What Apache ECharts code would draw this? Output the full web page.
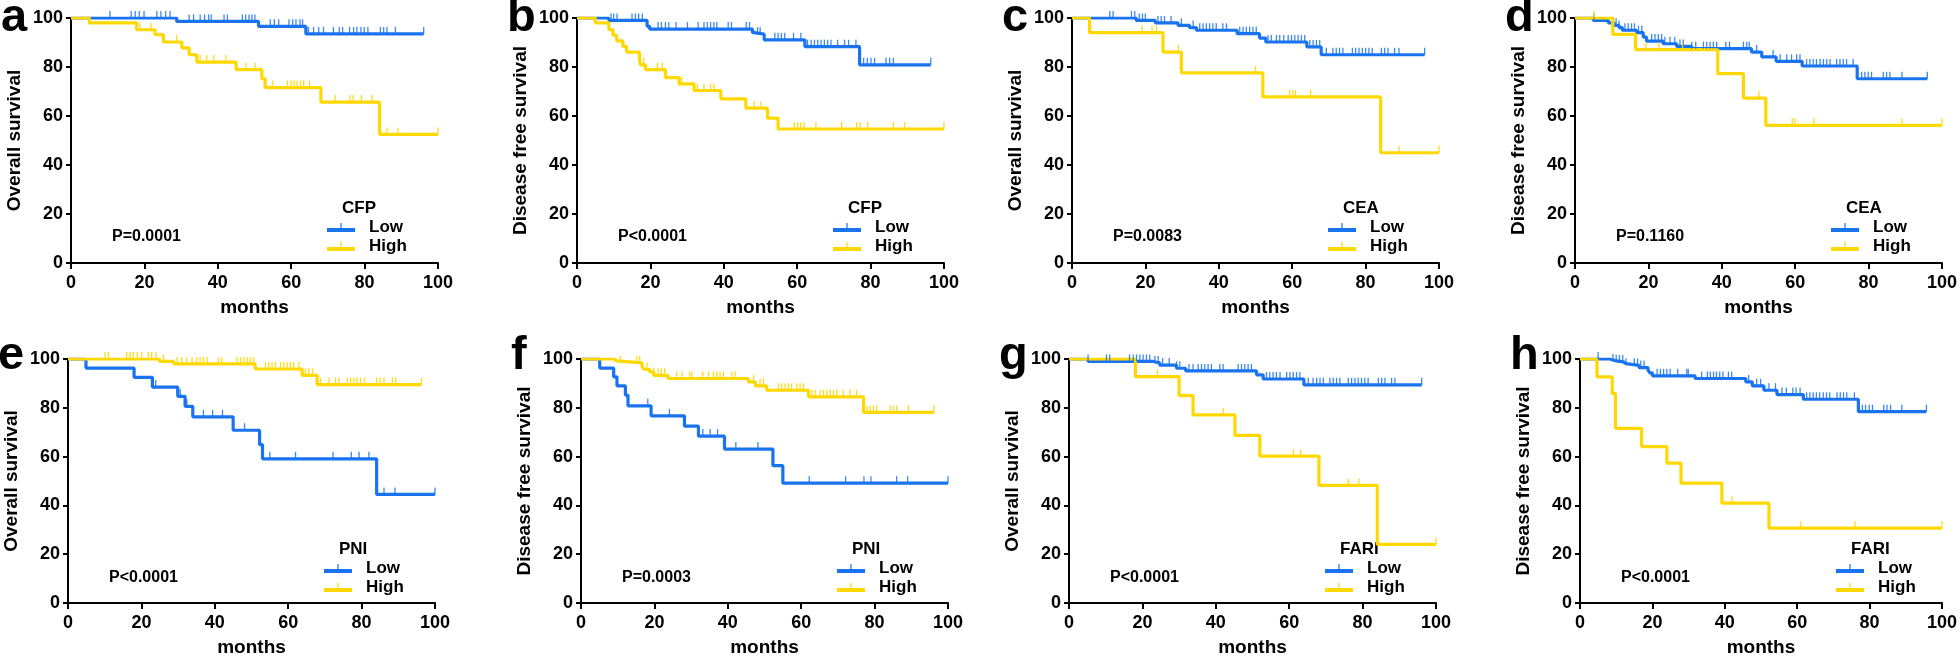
<!DOCTYPE html>
<html>
<head>
<meta charset="utf-8">
<script src="https://cdn.jsdelivr.net/npm/echarts@6.0.0/dist/echarts.min.js"></script>
<style>
html, body { margin: 0; padding: 0; background: #fff; }
#chart { width: 1960px; height: 658px; }
</style>
</head>
<body>
<div id="chart"></div>
<script>
// Kaplan-Meier curves: [month, survival %] at each drop, plus censor times
var monthTicks = [0, 20, 40, 60, 80, 100]
var panelLetters = ['a', 'b', 'c', 'd', 'e', 'f', 'g', 'h']
var yNames = ['Overall survival', 'Disease free survival', 'Overall survival', 'Disease free survival',
  'Overall survival', 'Disease free survival', 'Overall survival', 'Disease free survival']
var markers = ['CFP', 'CFP', 'CEA', 'CEA', 'PNI', 'PNI', 'FARI', 'FARI']
var pValues = ['P=0.0001', 'P<0.0001', 'P=0.0083', 'P=0.1160', 'P<0.0001', 'P=0.0003', 'P<0.0001', 'P<0.0001']

var aLowDrops = [[28.8, 98.6], [51.1, 96.6], [64.0, 93.5]]
var aLowCens = [10.6, 16.4, 17.5, 18.6, 19.9, 23.4, 24.5, 25.8, 27.0, 32.2, 33.4, 35.2, 36.4, 37.5, 38.2, 41.7, 42.6,
  46.7, 47.6, 48.5, 49.3, 50.1, 54.3, 55.4, 56.6, 59.4, 60.4, 61.3, 62.4, 63.1, 64.7, 66.1, 67.5, 68.8, 71.5, 73.1,
  74.0, 75.9, 77.0, 77.9, 79.0, 79.9, 80.9, 84.3, 85.2, 86.1, 88.4, 96.1]
var aHighDrops = [[5.0, 98.0], [17.9, 95.2], [22.9, 93.2], [25.2, 90.2], [30.2, 87.8], [32.2, 85.0], [34.3, 82.0],
  [45.0, 78.9], [52.0, 75.2], [52.9, 71.6], [68.1, 65.7], [84.1, 52.5]]
var aHighCens = [18.8, 21.8, 28.8, 35.2, 37.0, 38.9, 42.2, 47.7, 50.2, 55.0, 59.0, 60.0, 60.8, 61.6, 62.5, 63.4, 65.0,
  72.0, 76.0, 76.9, 79.1, 82.0, 86.1, 89.1, 100]

var bLowDrops = [[8.7, 99.0], [19.1, 96.6], [19.8, 95.5], [47.8, 94.1], [48.3, 93.4], [51.0, 91.1], [62.1, 88.3], [77.0, 80.9]]
var bLowCens = [9.3, 10.0, 10.9, 15.0, 15.9, 16.8, 17.8, 22.1, 23.0, 24.1, 25.0, 27.0, 30.1, 33.0, 34.6, 35.5, 36.4,
  37.3, 38.1, 41.2, 42.1, 46.1, 47.0, 49.2, 49.9, 53.9, 54.8, 55.7, 56.6, 59.0, 61.0, 62.8, 63.8, 64.7, 65.6, 66.5,
  67.4, 68.3, 69.2, 71.0, 72.9, 74.0, 76.0, 78.1, 79.1, 80.1, 81.1, 84.2, 85.2, 86.2, 96.4]
var bHighDrops = [[5.0, 98.0], [8.7, 95.2], [9.8, 93.0], [10.8, 90.7], [12.5, 88.4], [13.5, 86.1], [17.0, 83.5],
  [17.3, 80.9], [18.7, 78.9], [24.1, 75.7], [27.8, 73.1], [31.9, 70.4], [39.2, 67.0], [46.0, 63.2], [51.9, 59.1], [54.8, 54.7]]
var bHighCens = [18.2, 21.9, 23.2, 28.5, 32.8, 34.6, 36.4, 37.3, 48.3, 50.1, 59.2, 60.1, 61.0, 61.9, 65.1, 72.1, 76.2,
  77.1, 79.2, 86.2, 89.3, 100]

var cLowDrops = [[17.5, 99.0], [22.7, 98.0], [28.9, 97.0], [32.0, 96.1], [33.9, 95.0], [45.0, 93.6], [51.1, 91.8],
  [52.8, 90.2], [64.0, 88.2], [67.9, 85.0]]
var cLowCens = [10.3, 11.2, 16.2, 17.1, 18.3, 19.2, 20.0, 23.4, 24.3, 25.2, 27.0, 29.8, 33.0, 34.8, 35.7, 36.6, 37.5,
  38.4, 39.3, 41.1, 42.1, 45.7, 46.6, 47.5, 48.4, 49.3, 50.2, 53.4, 54.3, 55.7, 56.6, 57.7, 58.9, 59.8, 60.7, 61.6,
  62.5, 63.4, 64.8, 65.7, 66.6, 67.5, 69.3, 71.1, 72.0, 72.9, 73.8, 76.4, 77.3, 78.2, 79.1, 80.0, 80.9, 81.8, 84.3,
  85.2, 86.1, 87.9, 89.1, 96.1]
var cHighDrops = [[4.8, 94.0], [24.8, 86.1], [29.8, 77.6], [52.0, 67.8], [84.1, 45.0]]
var cHighCens = [19.1, 21.8, 23.0, 29.0, 50.0, 59.3, 60.2, 60.9, 65.0, 89.1, 100]

var dLowDrops = [[5.0, 99.0], [9.1, 98.0], [10.7, 97.0], [12.0, 96.1], [12.9, 95.0], [16.8, 94.0], [18.6, 92.2],
  [19.5, 90.6], [24.0, 89.5], [27.7, 88.4], [31.8, 87.5], [48.1, 86.1], [50.9, 84.1], [54.8, 82.3], [61.9, 80.4], [76.9, 75.2]]
var dLowCens = [5.2, 11.2, 12.0, 13.6, 14.5, 15.4, 16.2, 17.3, 18.2, 20.9, 21.8, 22.7, 23.6, 24.5, 25.9, 27.2, 28.6,
  29.5, 31.8, 32.9, 35.0, 35.9, 36.8, 37.7, 38.6, 41.1, 42.1, 45.9, 46.8, 47.5, 49.5, 54.0, 55.9, 57.7, 59.0, 60.4,
  61.3, 63.1, 64.0, 64.9, 65.8, 66.8, 67.7, 68.6, 69.5, 71.3, 72.2, 73.1, 74.0, 75.8, 78.1, 79.0, 79.9, 80.8, 84.0,
  84.9, 85.8, 89.1, 96.0]
var dHighDrops = [[10.3, 93.3], [16.5, 87.1], [38.9, 77.3], [45.9, 67.3], [52.0, 56.2]]
var dHighCens = [5.2, 19.3, 22.9, 29.3, 50.1, 59.2, 59.9, 65.1, 89.1, 100]

var eLowDrops = [[4.9, 96.3], [18.0, 92.5], [23.0, 88.5], [29.9, 84.7], [31.9, 80.6], [34.0, 76.3], [45.0, 70.8],
  [52.2, 64.9], [53.0, 59.1], [84.1, 44.5]]
var eLowCens = [23.9, 30.6, 32.4, 36.9, 39.4, 42.1, 48.1, 55.0, 62.0, 72.2, 77.2, 79.3, 82.0, 86.1, 89.1, 100]
var eHighDrops = [[24.9, 99.0], [28.8, 98.0], [51.0, 95.9], [63.8, 93.3], [67.9, 89.5]]
var eHighCens = [10.1, 11.0, 16.0, 16.9, 17.8, 18.9, 20.1, 21.9, 22.8, 24.0, 26.0, 29.7, 31.0, 32.4, 33.8, 35.1, 36.0,
  36.9, 37.9, 41.0, 41.9, 46.0, 47.0, 47.9, 48.8, 49.7, 50.6, 53.8, 54.7, 55.6, 56.5, 57.9, 58.8, 59.7, 60.6, 61.5,
  62.9, 64.7, 65.6, 66.7, 68.8, 71.1, 72.9, 73.8, 76.1, 77.0, 77.9, 78.8, 79.7, 80.8, 84.1, 85.0, 86.1, 88.4, 89.3, 96.3]

var fLowDrops = [[5.1, 96.3], [8.9, 92.7], [9.8, 89.0], [12.1, 85.2], [12.8, 80.8], [19.1, 76.7], [28.2, 72.5],
  [32.0, 68.4], [39.1, 63.1], [52.3, 56.3], [55.0, 49.1]]
var fLowCens = [18.2, 24.1, 33.2, 35.2, 37.2, 42.2, 48.2, 62.2, 72.1, 77.1, 79.0, 86.0, 89.0, 100]
var fHighDrops = [[8.9, 99.2], [9.8, 98.4], [16.6, 97.1], [17.1, 95.8], [18.7, 94.7], [19.8, 93.3], [23.7, 92.0],
  [45.6, 90.6], [47.5, 89.0], [50.6, 87.2], [62.0, 84.5], [77.0, 78.1]]
var fHighCens = [10.7, 15.2, 16.0, 18.0, 19.8, 21.0, 21.9, 22.8, 26.1, 27.5, 29.6, 30.2, 33.2, 34.8, 36.1, 37.0, 37.9,
  38.8, 41.1, 42.0, 47.0, 48.8, 49.7, 53.8, 54.7, 55.6, 56.5, 57.4, 58.8, 59.7, 60.6, 62.9, 63.8, 65.2, 66.1, 67.0,
  67.9, 68.8, 69.7, 71.5, 73.3, 75.1, 77.9, 78.8, 79.7, 80.6, 84.2, 85.1, 86.0, 89.2, 96.2]

var gLowDrops = [[5.2, 99.0], [22.9, 98.4], [24.7, 97.5], [29.3, 96.2], [31.8, 95.1], [51.1, 93.5], [52.9, 91.8], [64.0, 89.4]]
var gLowCens = [5.2, 10.2, 11.1, 16.5, 17.5, 18.4, 19.3, 20.2, 21.1, 22.0, 23.4, 24.3, 25.5, 27.3, 29.3, 30.2, 32.7,
  33.8, 35.2, 36.1, 37.0, 37.9, 38.8, 41.1, 42.0, 46.1, 47.0, 47.9, 48.8, 49.7, 53.8, 54.7, 55.6, 56.5, 57.5, 59.3,
  60.2, 61.1, 62.0, 62.9, 65.2, 66.5, 67.5, 68.4, 69.3, 71.1, 72.0, 72.9, 73.8, 76.1, 77.0, 77.9, 78.8, 79.7, 80.6,
  81.5, 84.3, 85.2, 86.1, 87.9, 88.8, 96.1]
var gHighDrops = [[18.1, 92.8], [30.0, 85.0], [33.8, 77.1], [45.2, 68.7], [52.0, 60.2], [68.1, 48.2], [84.0, 24.0]]
var gHighCens = [24.1, 42.0, 61.1, 63.1, 76.1, 79.0, 100]

var hLowDrops = [[8.2, 99.2], [10.0, 98.8], [12.0, 98.1], [12.7, 97.4], [16.3, 96.5], [18.8, 95.4], [19.3, 94.3],
  [20.0, 93.1], [31.8, 92.0], [45.8, 90.6], [47.6, 89.0], [50.8, 87.2], [54.4, 85.4], [61.7, 83.5], [76.9, 78.4]]
var hLowCens = [5.0, 9.1, 10.0, 10.9, 11.8, 12.7, 15.0, 15.9, 16.8, 17.7, 21.3, 22.2, 23.1, 24.0, 24.9, 27.0, 29.5,
  29.9, 33.6, 35.2, 36.0, 36.9, 37.7, 38.6, 39.5, 41.0, 41.9, 46.6, 48.8, 49.9, 52.2, 54.0, 55.8, 57.0, 58.8, 59.7,
  60.8, 62.6, 63.5, 64.4, 65.3, 66.2, 67.2, 68.1, 69.0, 71.0, 71.9, 72.8, 73.7, 75.8, 78.0, 78.9, 79.9, 80.8, 83.9,
  84.8, 85.8, 88.9, 95.7]
var hHighDrops = [[4.7, 92.7], [8.9, 85.9], [9.8, 71.6], [17.0, 64.1], [24.0, 57.3], [27.9, 49.1], [39.2, 40.9], [52.2, 30.7]]
var hHighCens = [42.0, 61.0, 76.0, 100]

var lowDrops = [aLowDrops, bLowDrops, cLowDrops, dLowDrops, eLowDrops, fLowDrops, gLowDrops, hLowDrops]
var lowCens = [aLowCens, bLowCens, cLowCens, dLowCens, eLowCens, fLowCens, gLowCens, hLowCens]
var highDrops = [aHighDrops, bHighDrops, cHighDrops, dHighDrops, eHighDrops, fHighDrops, gHighDrops, hHighDrops]
var highCens = [aHighCens, bHighCens, cHighCens, dHighCens, eHighCens, fHighCens, gHighCens, hHighCens]

var BLUE = '#1a73ee'
var YELLOW = '#ffd800'
var FONT = '"Liberation Sans", Arial, sans-serif'

// layout of the 8 panels (px)
var gridLefts = [71, 577, 1072, 1575, 68, 581, 1069, 1580]
var gridTops = [18, 18, 18, 18, 359, 359, 359, 359]
var W = 367
var H = 245

// survival value at time t
function survAt(drops, t) {
  var s = 100
  for (var i = 0; i < drops.length; i++) {
    if (drops[i][0] <= t) s = drops[i][1]
  }
  return s
}

function curve(drops, cens) {
  var pts = [[0, 100]].concat(drops)
  pts.push([cens[cens.length - 1], drops[drops.length - 1][1]])
  return pts
}

function censPoints(drops, cens) {
  return cens.map(function(t) { return [t, survAt(drops, t)] })
}

// line with a censor tick, plus an empty point on the right to leave room before the text
var legendIcon = 'path://M0,5L28,5L28,9L0,9Z M13.4,0L14.6,0L14.6,5L13.4,5Z M37,5L37,5Z'

var grids = []
var xAxes = []
var yAxes = []
var series = []
var legends = []
var graphics = []

for (var i = 0; i < 8; i++) {
  var gl = gridLefts[i]
  var gt = gridTops[i]
  grids.push({ left: gl, top: gt, width: W, height: H })

  xAxes.push({
    gridIndex: i,
    type: 'value',
    min: monthTicks[0],
    max: monthTicks[monthTicks.length - 1],
    interval: 20,
    name: 'months',
    nameLocation: 'middle',
    nameGap: 35,
    nameTextStyle: { fontSize: 19, fontWeight: 'bold', fontFamily: FONT, color: '#000' },
    axisLine: { onZero: false, lineStyle: { color: '#000', width: 2 } },
    axisTick: { length: 6, lineStyle: { color: '#000', width: 2 } },
    axisLabel: { margin: 11, fontSize: 18, fontWeight: 'bold', fontFamily: FONT, color: '#000', showMinLabel: true, showMaxLabel: true },
    splitLine: { show: false }
  })
  yAxes.push({
    gridIndex: i,
    type: 'value',
    min: 0,
    max: 100,
    interval: 20,
    name: yNames[i],
    nameLocation: 'middle',
    nameGap: 47,
    nameTextStyle: { fontSize: 19, fontWeight: 'bold', fontFamily: FONT, color: '#000' },
    axisLine: { onZero: false, lineStyle: { color: '#000', width: 2 } },
    axisTick: { length: 5, lineStyle: { color: '#000', width: 2 } },
    axisLabel: { margin: 8, fontSize: 18, fontWeight: 'bold', fontFamily: FONT, color: '#000', showMinLabel: true, showMaxLabel: true },
    splitLine: { show: false }
  })

  series.push({
    type: 'line', name: 'Low', xAxisIndex: i, yAxisIndex: i, step: 'end',
    data: curve(lowDrops[i], lowCens[i]), symbol: 'none',
    lineStyle: { width: 3.2, color: BLUE }, itemStyle: { color: BLUE }, z: 2
  })
  series.push({
    type: 'line', name: 'High', xAxisIndex: i, yAxisIndex: i, step: 'end',
    data: curve(highDrops[i], highCens[i]), symbol: 'none',
    lineStyle: { width: 3.2, color: YELLOW }, itemStyle: { color: YELLOW }, z: 3
  })
  series.push({
    type: 'scatter', name: 'Low censored', xAxisIndex: i, yAxisIndex: i,
    data: censPoints(lowDrops[i], lowCens[i]), symbol: 'rect', symbolSize: [1.3, 7], symbolOffset: [0, -3.5],
    itemStyle: { color: BLUE, opacity: 0.85 }, z: 4, silent: true
  })
  series.push({
    type: 'scatter', name: 'High censored', xAxisIndex: i, yAxisIndex: i,
    data: censPoints(highDrops[i], highCens[i]), symbol: 'rect', symbolSize: [1.3, 7], symbolOffset: [0, -3.5],
    itemStyle: { color: YELLOW, opacity: 0.9 }, z: 4, silent: true
  })

  legends.push({
    left: gl + W - 111,
    top: gt + H - 44,
    orient: 'vertical',
    padding: 0,
    itemGap: 2,
    itemWidth: 37,
    itemHeight: 9,
    icon: legendIcon,
    selectedMode: false,
    data: ['Low', 'High'],
    textStyle: { fontSize: 17, fontWeight: 'bold', fontFamily: FONT, color: '#000', lineHeight: 17 }
  })

  graphics.push({
    type: 'text', x: gl + W - 96, y: gt + H - 55,
    style: { text: markers[i], font: 'bold 17px ' + FONT, fill: '#000', textVerticalAlign: 'middle' }
  })
  graphics.push({
    type: 'text', x: gl + 41, y: gt + H - 26,
    style: { text: pValues[i], font: 'bold 16px ' + FONT, fill: '#000', textVerticalAlign: 'middle' }
  })
  graphics.push({
    type: 'text', x: gl - 70, y: i < 4 ? 18 : 356,
    style: { text: panelLetters[i], font: 'bold 47px ' + FONT, fill: '#000', textVerticalAlign: 'middle' }
  })
}

var chart = echarts.init(document.getElementById('chart'), null, { renderer: 'canvas' })
chart.setOption({
  animation: false,
  backgroundColor: '#fff',
  grid: grids,
  xAxis: xAxes,
  yAxis: yAxes,
  legend: legends,
  graphic: graphics,
  series: series
})
</script>
</body>
</html>
